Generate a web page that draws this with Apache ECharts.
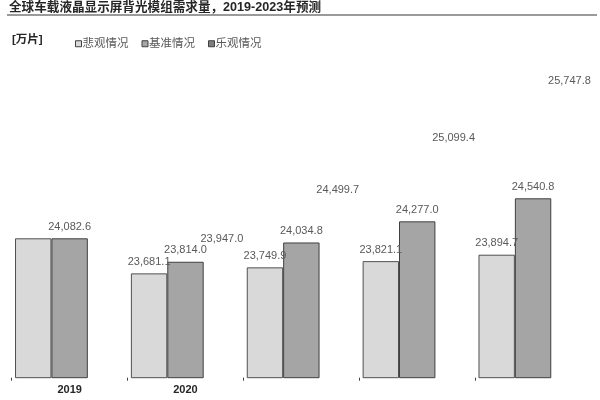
<!DOCTYPE html>
<html>
<head>
<meta charset="utf-8">
<script src="https://cdn.jsdelivr.net/npm/echarts@6/dist/echarts.min.js"></script>
<style>
html,body{margin:0;padding:0;background:#fff;}
#main{width:600px;height:400px;}
</style>
</head>
<body>
<div id="main"></div>
<script>
// ---- data ----
var titleText = '全球车载液晶显示屏背光模组需求量，2019-2023年预测';
var unitText = '[万片]';
var categories = ['2019', '2020', '2021', '2022', '2023'];
var tickLabels = ['2019', '2020', '', '', ''];
var seriesNames = ['悲观情况', '基准情况', '乐观情况'];
var pessimistic = [24082.6, 23681.1, 23749.9, 23821.1, 23894.7];
var pessimisticLabelShown = [false, true, true, true, true];
var baseline = [24082.6, 23814.0, 24034.8, 24277.0, 24540.8];
var optimistic = [null, 23947.0, 24499.7, 25099.4, 25747.8];

var FONT = "'Liberation Sans', 'Noto Sans CJK SC', sans-serif";
function fmt(v) {
  return Number(v).toLocaleString('en-US', {minimumFractionDigits: 1, maximumFractionDigits: 1});
}
var labelStyle = {
  show: true, position: 'top', distance: 6,
  color: '#595959', fontSize: 11, fontFamily: FONT,
  formatter: function (p) { return fmt(p.value); }
};
var groupStarts = categories.map(function (c, i) { return i; });

var chart = echarts.init(document.getElementById('main'), null, {renderer: 'canvas'});
chart.setOption({
  animation: false,
  backgroundColor: '#fff',
  title: {
    text: titleText, left: 4, top: -4,
    textStyle: {fontSize: 12.6, fontWeight: 'bold', color: '#262626', fontFamily: FONT}
  },
  graphic: [
    {type: 'line', shape: {x1: 7, y1: 15, x2: 597, y2: 15}, style: {stroke: '#9a9a9a', lineWidth: 2}},
    {type: 'text', left: 12, top: 34, style: {text: unitText, fill: '#262626', font: 'bold 11.5px ' + FONT}}
  ],
  legend: {
    left: 70, top: 33, itemWidth: 6, itemHeight: 6, itemGap: 13,
    icon: 'rect',
    textStyle: {fontSize: 11.5, color: '#595959', fontFamily: FONT, padding: [0, 0, 0, -4]},
    data: [
      {name: seriesNames[0], itemStyle: {color: '#d9d9d9', borderColor: '#404040', borderWidth: 1}},
      {name: seriesNames[1], itemStyle: {color: '#a5a5a5', borderColor: '#404040', borderWidth: 1}},
      {name: seriesNames[2], itemStyle: {color: '#7f7f7f', borderColor: '#404040', borderWidth: 1}}
    ]
  },
  grid: {left: 11.7, right: 9, top: 60, bottom: 22.3, containLabel: false},
  xAxis: [
    {
      type: 'category', data: categories,
      axisLine: {show: false},
      axisTick: {show: false},
      axisLabel: {
        margin: 7, fontSize: 11, fontWeight: 'bold', color: '#262626', fontFamily: FONT,
        formatter: function (v, i) { return tickLabels[i]; }
      }
    },
    {
      // tick marks at left edge of each category group
      type: 'value', position: 'bottom', min: 0, max: categories.length,
      axisLine: {show: false},
      axisTick: {show: true, length: 3, lineStyle: {color: '#404040', width: 1}, customValues: groupStarts},
      axisLabel: {show: false},
      splitLine: {show: false}
    }
  ],
  yAxis: {
    type: 'value', min: 22486, max: 26125, show: false,
    splitLine: {show: false}
  },
  series: [
    {
      name: seriesNames[0], type: 'bar', barWidth: 36.4, barGap: '0%',
      data: pessimistic.map(function (v, i) {
        return {value: v, label: {show: pessimisticLabelShown[i]}};
      }),
      itemStyle: {color: '#d9d9d9', borderColor: '#505050', borderWidth: 1},
      label: labelStyle
    },
    {
      name: seriesNames[1], type: 'bar', barWidth: 36.4, barGap: '0%',
      data: baseline,
      itemStyle: {color: '#a5a5a5', borderColor: '#404040', borderWidth: 1},
      label: labelStyle
    },
    {
      name: seriesNames[2], type: 'bar', barWidth: 36.4, barGap: '0%',
      data: optimistic,
      itemStyle: {color: 'rgba(0,0,0,0)', borderWidth: 0},
      label: labelStyle
    }
  ]
});
</script>
</body>
</html>
